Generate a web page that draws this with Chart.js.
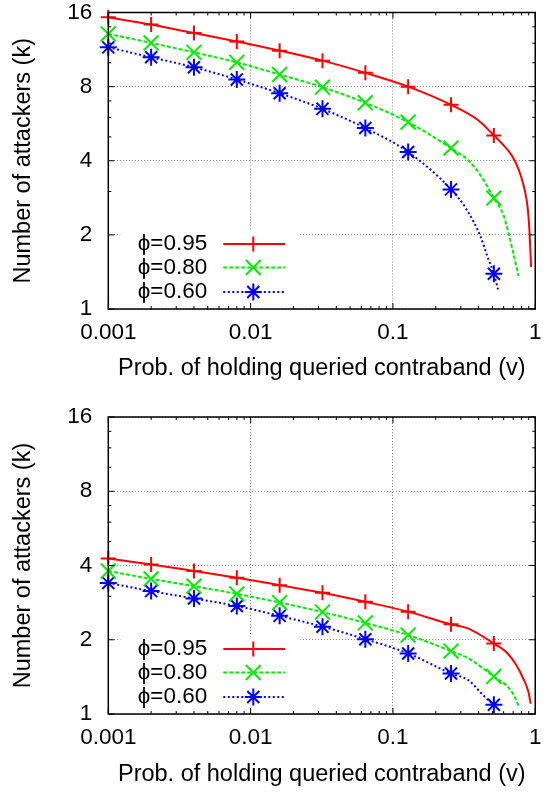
<!DOCTYPE html>
<html>
<head>
<meta charset="utf-8">
<script src="https://cdn.jsdelivr.net/npm/chart.js@4.4.0/dist/chart.umd.min.js"></script>
<style>
  body { margin: 0; background: #fff; }
  canvas { display: block; }
</style>
</head>
<body>
<canvas id="chartTop" width="552" height="396"></canvas>
<canvas id="chartBottom" width="552" height="396"></canvas>
<script>
// valores de v donde van los marcadores
var markV = [0.001, 0.002, 0.004, 0.008, 0.016, 0.032, 0.064, 0.128, 0.256, 0.512];
var seriesNames = ['\u03d5=0.95', '\u03d5=0.80', '\u03d5=0.60'];

// panel superior
var redTopK = [15.3, 14.3, 13.2, 12.2, 11.2, 10.2, 9.1, 8.0, 6.75, 5.07];
var greenTopK = [13.1, 12.04, 11.03, 10.04, 8.96, 7.96, 6.88, 5.74, 4.5, 2.82];
var blueTopK = [11.55, 10.53, 9.59, 8.55, 7.52, 6.5, 5.43, 4.34, 3.06, 1.39];
// puntos extra de la curva (sin marcador)
var redTopExtraV = [0.40, 0.60, 0.683, 0.764, 0.828, 0.884, 0.912, 0.935];
var redTopExtraK = [5.83, 4.62, 4.21, 3.69, 3.18, 2.59, 2.05, 1.48];
var greenTopExtraV = [0.34, 0.42, 0.60, 0.65, 0.694, 0.728, 0.764];
var greenTopExtraK = [4.01, 3.44, 2.40, 2.03, 1.73, 1.54, 1.36];
var blueTopExtraV = [0.326, 0.414, 0.462, 0.55];
var blueTopExtraK = [2.56, 1.96, 1.63, 1.19];

// panel inferior
var redBotK = [4.27, 4.04, 3.8, 3.57, 3.33, 3.1, 2.85, 2.6, 2.31, 1.93];
var greenBotK = [3.8, 3.53, 3.3, 3.07, 2.83, 2.59, 2.34, 2.09, 1.8, 1.42];
var blueBotK = [3.4, 3.15, 2.94, 2.74, 2.5, 2.26, 2.01, 1.76, 1.46, 1.09];
var redBotExtraV = [0.34, 0.64, 0.73, 0.83, 0.895, 0.93];
var redBotExtraK = [2.22, 1.76, 1.59, 1.38, 1.23, 1.1];
var greenBotExtraV = [0.34, 0.65, 0.72, 0.765];
var greenBotExtraK = [1.68, 1.28, 1.17, 1.08];
var blueBotExtraV = [0.34, 0.42, 0.482];
var blueBotExtraK = [1.37, 1.21, 1.12];

// ejes
var xMajorTicks = [0.001, 0.01, 0.1, 1];
var xTickLabels = ['0.001', '0.01', '0.1', '1'];
var xMinorTicks = [0.002, 0.003, 0.004, 0.005, 0.006, 0.007, 0.008, 0.009,
                   0.02, 0.03, 0.04, 0.05, 0.06, 0.07, 0.08, 0.09,
                   0.2, 0.3, 0.4, 0.5, 0.6, 0.7, 0.8, 0.9];
var yMajorTicks = [1, 2, 4, 8, 16];
var yTickLabels = ['1', '2', '4', '8', '16'];
var yMinorTicks = [3, 5, 6, 7, 10, 12, 14];

var styles = [
  { color: '#ff0000', dash: [], point: 'cross', radius: 7.5 },
  { color: '#00ee00', dash: [4, 2], point: 'crossRot', radius: 10.5 },
  { color: '#0000ff', dash: [2, 2.5], point: 'star', radius: 8.5 }
];

var FONT = "'Liberation Sans', Arial, Helvetica, sans-serif";
Chart.defaults.color = '#000';
Chart.defaults.font.family = FONT;

function buildPoints(k, extraV, extraK) {
  var pts = markV.map(function (v, i) { return { x: v, y: k[i], mark: true }; });
  extraV.forEach(function (v, i) { pts.push({ x: v, y: extraK[i], mark: false }); });
  pts.sort(function (a, b) { return a.x - b.x; });
  return pts;
}

function makeDataset(i, points) {
  var s = styles[i];
  return {
    label: seriesNames[i],
    data: points,
    showLine: true,
    borderColor: s.color,
    backgroundColor: s.color,
    borderWidth: 2,
    borderDash: s.dash,
    cubicInterpolationMode: 'monotone',
    pointStyle: s.point,
    pointRadius: function (c) { return c.raw && c.raw.mark ? s.radius : 0; },
    pointHoverRadius: 0,
    pointBorderColor: s.color,
    pointBackgroundColor: s.color,
    pointBorderWidth: 2,
    clip: false
  };
}

// marco, marcas hacia dentro y leyenda estilo gnuplot
var framePlugin = {
  id: 'frameKey',
  afterDraw: function (chart) {
    var ctx = chart.ctx;
    var a = chart.chartArea;
    var xs = chart.scales.x, ys = chart.scales.y;
    ctx.save();

    // caja blanca de la leyenda
    ctx.fillStyle = '#fff';
    ctx.fillRect(a.left + 12, a.bottom - 79, 180, 79);

    ctx.font = '22.5px ' + FONT;
    ctx.textAlign = 'right';
    ctx.textBaseline = 'middle';
    var rowsY = [a.bottom - 65, a.bottom - 41.5, a.bottom - 17];
    for (var i = 0; i < styles.length; i++) {
      var s = styles[i];
      ctx.fillStyle = '#000';
      ctx.fillText(seriesNames[i], a.left + 99, rowsY[i]);
      ctx.strokeStyle = s.color;
      ctx.lineWidth = 2;
      ctx.setLineDash(s.dash);
      ctx.beginPath();
      ctx.moveTo(a.left + 115, rowsY[i]);
      ctx.lineTo(a.left + 177, rowsY[i]);
      ctx.stroke();
      ctx.setLineDash([]);
      ctx.fillStyle = s.color;
      if (Chart.helpers && Chart.helpers.drawPoint) {
        Chart.helpers.drawPoint(ctx, { pointStyle: s.point, radius: s.radius, rotation: 0, borderWidth: 2 },
          a.left + 145, rowsY[i]);
      }
    }

    // marcas de los ejes
    ctx.strokeStyle = '#000';
    ctx.lineWidth = 1;
    ctx.beginPath();
    function xTick(v, len) {
      var px = xs.getPixelForValue(v);
      ctx.moveTo(px, a.bottom); ctx.lineTo(px, a.bottom - len);
      ctx.moveTo(px, a.top); ctx.lineTo(px, a.top + len);
    }
    function yTick(v, len) {
      var py = ys.getPixelForValue(v);
      ctx.moveTo(a.left, py); ctx.lineTo(a.left + len, py);
      ctx.moveTo(a.right, py); ctx.lineTo(a.right - len, py);
    }
    xMajorTicks.forEach(function (v) { xTick(v, 6); });
    xMinorTicks.forEach(function (v) { xTick(v, 3); });
    yMajorTicks.forEach(function (v) { yTick(v, 6); });
    yMinorTicks.forEach(function (v) { yTick(v, 3); });
    ctx.stroke();

    // marco
    ctx.lineWidth = 1.5;
    ctx.strokeRect(a.left, a.top, a.right - a.left, a.bottom - a.top);
    ctx.restore();
  }
};

function makeChart(id, datasets, padTop, xAxisHeight, xTitlePad) {
  return new Chart(document.getElementById(id), {
    type: 'scatter',
    data: { datasets: datasets },
    options: {
      responsive: false,
      animation: false,
      events: [],
      layout: { padding: { top: padTop, right: 15.3, bottom: 0, left: 0 } },
      plugins: { legend: { display: false }, tooltip: { enabled: false } },
      scales: {
        x: {
          type: 'logarithmic',
          min: 0.001,
          max: 1,
          afterBuildTicks: function (scale) {
            scale.ticks = xMajorTicks.map(function (v) { return { value: v }; });
          },
          afterFit: function (scale) { scale.height = xAxisHeight; },
          ticks: {
            autoSkip: false,
            maxRotation: 0,
            padding: 10.5,
            font: { size: 22.5 },
            callback: function (value) { return xTickLabels[xMajorTicks.indexOf(value)]; }
          },
          grid: { color: '#888', lineWidth: 1, drawTicks: false },
          border: { display: false, dash: [1, 2] },
          title: {
            display: true,
            text: 'Prob. of holding queried contraband (v)',
            font: { size: 23.5 },
            padding: { top: 0, bottom: xTitlePad }
          }
        },
        y: {
          type: 'logarithmic',
          min: 1,
          max: 16,
          afterBuildTicks: function (scale) {
            scale.ticks = yMajorTicks.map(function (v) { return { value: v }; });
          },
          afterFit: function (scale) { scale.width = 108.3; },
          ticks: {
            autoSkip: false,
            padding: 0,
            font: { size: 22.5, lineHeight: 1 },
            callback: function (value) { return yTickLabels[yMajorTicks.indexOf(value)]; }
          },
          // marca invisible para separar las etiquetas del eje
          grid: { color: '#888', lineWidth: 1, drawTicks: true, tickLength: 16, tickColor: 'rgba(0,0,0,0)' },
          border: { display: false, dash: [1, 2] },
          title: {
            display: true,
            text: 'Number of attackers (k)',
            font: { size: 23.5 },
            padding: { top: 9, bottom: 0 }
          }
        }
      }
    },
    plugins: [framePlugin]
  });
}

var chartTop = makeChart('chartTop', [
  makeDataset(0, buildPoints(redTopK, redTopExtraV, redTopExtraK)),
  makeDataset(1, buildPoints(greenTopK, greenTopExtraV, greenTopExtraK)),
  makeDataset(2, buildPoints(blueTopK, blueTopExtraV, blueTopExtraK))
], 11.5, 87, 13.6);

var chartBottom = makeChart('chartBottom', [
  makeDataset(0, buildPoints(redBotK, redBotExtraV, redBotExtraK)),
  makeDataset(1, buildPoints(greenBotK, greenBotExtraV, greenBotExtraK)),
  makeDataset(2, buildPoints(blueBotK, blueBotExtraV, blueBotExtraK))
], 21, 78, 3.6);
</script>
</body>
</html>
